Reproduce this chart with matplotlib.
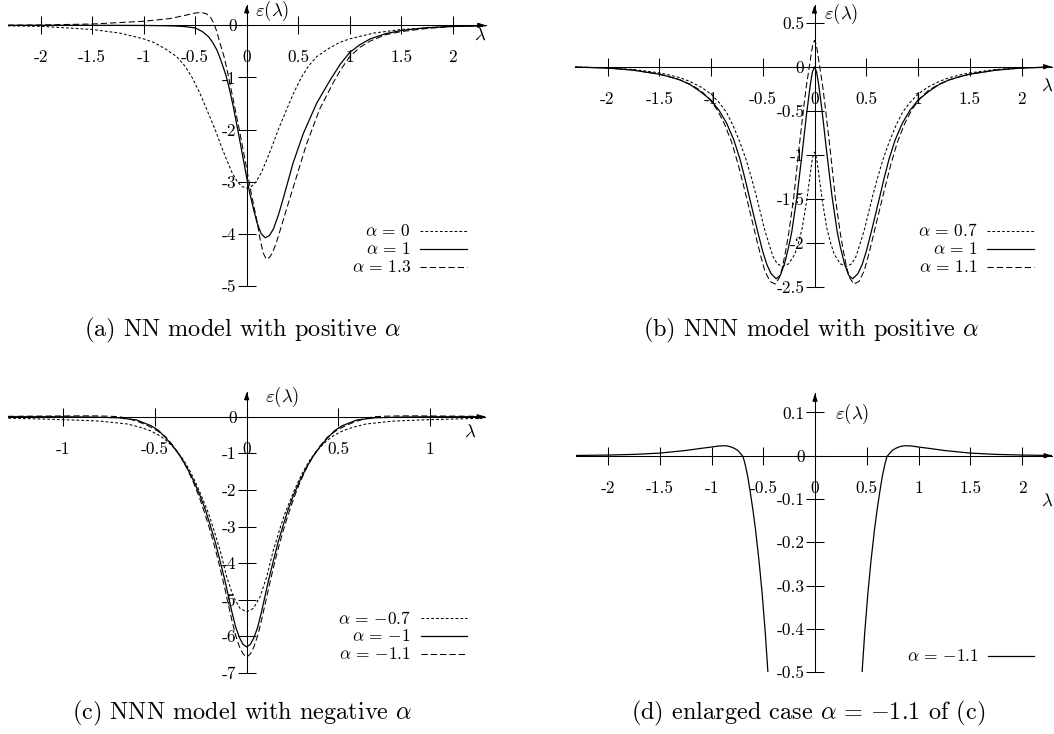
import matplotlib
matplotlib.use("Agg")
import matplotlib.pyplot as plt
from matplotlib.lines import Line2D

plt.rcParams['font.family'] = 'cmr10'
plt.rcParams['mathtext.fontset'] = 'cm'
plt.rcParams['axes.unicode_minus'] = False
plt.rcParams['lines.scale_dashes'] = False

W, H = 1054, 734

# ---------------- data ----------------
# (a) NN model, alpha = 0, 1, 1.3
a_x0 = [-2.32, -2.0, -1.5, -1.23, -1.0, -0.9, -0.8, -0.68, -0.6, -0.53, -0.45, -0.38, -0.31, -0.25,
        -0.19, -0.14, -0.09, -0.045, 0.0, 0.045, 0.09, 0.14, 0.19, 0.25, 0.31, 0.38, 0.45, 0.53,
        0.6, 0.68, 0.8, 0.9, 1.0, 1.23, 1.5, 2.0, 2.32]
a_y0 = [-0.01, -0.02, -0.08, -0.15, -0.26, -0.33, -0.44, -0.6, -0.78, -1.0, -1.32, -1.65, -1.98, -2.3,
        -2.6, -2.83, -3.0, -3.09, -3.12, -3.09, -3.0, -2.83, -2.6, -2.3, -1.98, -1.65, -1.32, -1.0,
        -0.78, -0.6, -0.44, -0.33, -0.26, -0.15, -0.08, -0.02, -0.01]

a_x1 = [-2.32, -1.5, -1.0, -0.8, -0.7, -0.6, -0.5, -0.43, -0.37, -0.33, -0.29, -0.26, -0.23, -0.2,
        -0.17, -0.13, -0.08, -0.03, 0.0, 0.03, 0.07, 0.1, 0.14, 0.18, 0.22, 0.26, 0.31, 0.36, 0.45,
        0.55, 0.68, 0.81, 0.91, 1.0, 1.1, 1.2, 1.35, 1.5, 1.75, 2.0, 2.32]
a_y1 = [0.0, 0.0, -0.003, -0.008, -0.013, -0.025, -0.05, -0.12, -0.22, -0.33, -0.47, -0.62, -0.79, -0.97,
        -1.2, -1.56, -2.07, -2.6, -2.92, -3.22, -3.55, -3.78, -3.99, -4.07, -4.03, -3.9, -3.62, -3.28, -2.64,
        -2.07, -1.49, -1.05, -0.74, -0.52, -0.37, -0.26, -0.16, -0.1, -0.045, -0.02, -0.008]

a_x13 = [-2.32, -2.0, -1.5, -1.0, -0.74, -0.6, -0.5, -0.44, -0.39, -0.35, -0.32, -0.29, -0.26, -0.22,
         -0.19, -0.13, -0.065, -0.016, 0.05, 0.1, 0.13, 0.16, 0.19, 0.22, 0.25, 0.29, 0.34, 0.39, 0.49,
         0.58, 0.71, 0.84, 0.91, 1.0, 1.1, 1.2, 1.35, 1.5, 1.75, 2.0, 2.32]
a_y13 = [0.003, 0.006, 0.025, 0.077, 0.13, 0.19, 0.235, 0.245, 0.22, 0.15, 0.04, -0.12, -0.34, -0.6,
         -0.86, -1.43, -2.07, -2.58, -3.28, -3.75, -4.1, -4.36, -4.48, -4.45, -4.36, -4.15, -3.83, -3.5, -2.86,
         -2.28, -1.6, -1.1, -0.86, -0.6, -0.42, -0.3, -0.18, -0.12, -0.06, -0.025, -0.01]

# (b) NNN model, alpha = 0.7, 1, 1.1
b_x07 = [-2.31, -2.0, -1.75, -1.5, -1.4, -1.3, -1.2, -1.1, -1.0, -0.92, -0.85, -0.79, -0.72, -0.66,
         -0.61, -0.56, -0.48, -0.43, -0.4, -0.36, -0.31, -0.25, -0.19, -0.155, -0.12, -0.1, -0.075,
         -0.04, -0.02, 0.0, 0.02, 0.04, 0.075, 0.1, 0.12, 0.155, 0.19, 0.25, 0.31, 0.36, 0.4, 0.43,
         0.48, 0.56, 0.61, 0.66, 0.72, 0.79, 0.85, 0.92, 1.0, 1.1, 1.2, 1.3, 1.4, 1.5, 1.75, 2.0, 2.29]
b_y07 = [-0.004, -0.013, -0.032, -0.07, -0.095, -0.125, -0.17, -0.23, -0.31, -0.41, -0.52, -0.66, -0.86, -1.06,
         -1.26, -1.48, -1.86, -2.05, -2.16, -2.24, -2.27, -2.24, -2.13, -2.0, -1.84, -1.7, -1.52,
         -1.21, -1.04, -0.97, -1.04, -1.21, -1.52, -1.7, -1.84, -2.0, -2.13, -2.24, -2.27, -2.24, -2.16, -2.05,
         -1.86, -1.48, -1.26, -1.06, -0.86, -0.66, -0.52, -0.41, -0.31, -0.23, -0.17, -0.125, -0.095, -0.07, -0.032,
         -0.013, -0.004]

b_x1 = [-2.31, -2.0, -1.75, -1.5, -1.4, -1.3, -1.2, -1.1, -1.0, -0.92, -0.85, -0.78, -0.72, -0.67,
        -0.63, -0.55, -0.5, -0.46, -0.42, -0.37, -0.33, -0.29, -0.25, -0.22, -0.17, -0.12, -0.075, -0.04,
        -0.02, 0.0, 0.02, 0.04, 0.075, 0.12, 0.17, 0.22, 0.25, 0.29, 0.33, 0.37, 0.42, 0.46, 0.5, 0.55,
        0.63, 0.67, 0.72, 0.78, 0.85, 0.92, 1.0, 1.1, 1.2, 1.3, 1.4, 1.5, 1.75, 2.0, 2.29]
b_y1 = [-0.005, -0.015, -0.04, -0.085, -0.115, -0.15, -0.205, -0.285, -0.38, -0.5, -0.64, -0.83, -1.05, -1.28,
        -1.48, -1.87, -2.1, -2.25, -2.35, -2.41, -2.37, -2.24, -2.05, -1.88, -1.48, -0.99, -0.52, -0.2,
        -0.06, 0.0, -0.06, -0.2, -0.52, -0.99, -1.48, -1.88, -2.05, -2.24, -2.37, -2.41, -2.35, -2.25, -2.1, -1.87,
        -1.48, -1.28, -1.05, -0.83, -0.64, -0.5, -0.38, -0.285, -0.205, -0.15, -0.115, -0.085, -0.04, -0.015, -0.005]

b_x11 = [-2.31, -2.0, -1.75, -1.5, -1.4, -1.3, -1.2, -1.1, -1.02, -0.94, -0.87, -0.8, -0.74, -0.69,
         -0.64, -0.56, -0.52, -0.48, -0.43, -0.38, -0.34, -0.31, -0.28, -0.25, -0.2, -0.156, -0.107,
         -0.08, -0.05, -0.03, -0.015, 0.0, 0.015, 0.03, 0.05, 0.08, 0.107, 0.156, 0.2, 0.25, 0.28, 0.31,
         0.34, 0.38, 0.43, 0.48, 0.52, 0.56, 0.64, 0.69, 0.74, 0.8, 0.87, 0.94, 1.02, 1.1, 1.2, 1.3, 1.4,
         1.5, 1.75, 2.0, 2.29]
b_y11 = [-0.004, -0.014, -0.038, -0.085, -0.115, -0.15, -0.2, -0.27, -0.36, -0.49, -0.65, -0.86, -1.1, -1.33,
         -1.57, -1.96, -2.15, -2.32, -2.44, -2.47, -2.4, -2.28, -2.1, -1.9, -1.48, -0.99, -0.49,
         -0.23, 0.0, 0.16, 0.26, 0.3, 0.26, 0.16, 0.0, -0.23, -0.49, -0.99, -1.48, -1.9, -2.1, -2.28,
         -2.4, -2.47, -2.44, -2.32, -2.15, -1.96, -1.57, -1.33, -1.1, -0.86, -0.65, -0.49, -0.36, -0.27, -0.2, -0.15, -0.115,
         -0.085, -0.038, -0.014, -0.004]

# (c) NNN model, alpha = -0.7, -1, -1.1  ((d) shows -1.1 enlarged)
c_xm07 = [-1.3, -1.0, -0.8, -0.65, -0.58, -0.527, -0.473, -0.436, -0.382, -0.345, -0.31, -0.29, -0.265,
          -0.24, -0.21, -0.185, -0.145, -0.11, -0.073, -0.036, 0.0, 0.036, 0.073, 0.11, 0.145, 0.185, 0.21,
          0.24, 0.265, 0.29, 0.31, 0.345, 0.382, 0.436, 0.473, 0.527, 0.58, 0.65, 0.8, 1.0, 1.3]
c_ym07 = [-0.04, -0.08, -0.12, -0.2, -0.29, -0.38, -0.52, -0.66, -0.93, -1.18, -1.48, -1.68, -1.95,
          -2.25, -2.62, -3.0, -3.65, -4.36, -4.92, -5.24, -5.33, -5.24, -4.92, -4.36, -3.65, -3.0, -2.62,
          -2.25, -1.95, -1.68, -1.48, -1.18, -0.93, -0.66, -0.52, -0.38, -0.29, -0.2, -0.12, -0.08, -0.04]

c_xm1 = [-1.3, -1.0, -0.85, -0.7, -0.6, -0.52, -0.48, -0.445, -0.4, -0.36, -0.327, -0.29, -0.255, -0.225,
         -0.2, -0.17, -0.145, -0.12, -0.1, -0.08, -0.06, -0.04, -0.02, 0.0, 0.02, 0.04, 0.06, 0.08, 0.1,
         0.12, 0.145, 0.17, 0.2, 0.225, 0.255, 0.29, 0.327, 0.36, 0.4, 0.445, 0.48, 0.52, 0.6, 0.7, 0.85,
         1.0, 1.3]
c_ym1 = [0.0, -0.003, -0.01, -0.03, -0.09, -0.25, -0.38, -0.56, -0.82, -1.1, -1.38, -1.75, -2.15, -2.55,
         -2.95, -3.45, -3.95, -4.45, -4.9, -5.35, -5.75, -6.03, -6.22, -6.29, -6.22, -6.03, -5.75, -5.35, -4.9,
         -4.45, -3.95, -3.45, -2.95, -2.55, -2.15, -1.75, -1.38, -1.1, -0.82, -0.56, -0.38, -0.25, -0.09, -0.03, -0.01,
         -0.003, 0.0]

c_xm11 = [-2.31, -2.0, -1.75, -1.5, -1.25, -1.1, -1.0, -0.93, -0.865, -0.82, -0.78, -0.745, -0.72, -0.695,
          -0.675, -0.65, -0.625, -0.6, -0.575, -0.54, -0.51, -0.48, -0.455, -0.44, -0.4, -0.36, -0.327,
          -0.29, -0.255, -0.225, -0.2, -0.17, -0.145, -0.12, -0.1, -0.08, -0.06, -0.04, -0.02, 0.0,
          0.02, 0.04, 0.06, 0.08, 0.1, 0.12, 0.145, 0.17, 0.2, 0.225, 0.255, 0.29, 0.327, 0.36, 0.4, 0.44,
          0.455, 0.48, 0.51, 0.54, 0.575, 0.6, 0.625, 0.65, 0.675, 0.695, 0.72, 0.745, 0.78, 0.82, 0.865,
          0.93, 1.0, 1.1, 1.25, 1.5, 1.75, 2.0, 2.29]
c_ym11 = [0.0005, 0.0015, 0.003, 0.006, 0.012, 0.017, 0.02, 0.0225, 0.023, 0.021, 0.017, 0.012, 0.005, -0.002,
          -0.02, -0.048, -0.085, -0.125, -0.17, -0.245, -0.32, -0.41, -0.5, -0.56, -0.8, -1.1, -1.4,
          -1.8, -2.25, -2.7, -3.1, -3.64, -4.14, -4.68, -5.13, -5.58, -5.98, -6.28, -6.48, -6.57,
          -6.48, -6.28, -5.98, -5.58, -5.13, -4.68, -4.14, -3.64, -3.1, -2.7, -2.25, -1.8, -1.4, -1.1, -0.8, -0.56,
          -0.5, -0.41, -0.32, -0.245, -0.17, -0.125, -0.085, -0.048, -0.02, -0.002, 0.005, 0.012, 0.017, 0.021, 0.023,
          0.0225, 0.02, 0.017, 0.012, 0.006, 0.003, 0.0015, 0.0005]

# ticks
ab_xticks = [-2, -1.5, -1, -0.5, 0, 0.5, 1, 1.5, 2]
c_xticks = [-1, -0.5, 0, 0.5, 1]
a_yticks = [0, -1, -2, -3, -4, -5]
b_yticks = [0.5, 0, -0.5, -1, -1.5, -2, -2.5]
c_yticks = [0, -1, -2, -3, -4, -5, -6, -7]
d_yticks = [0.1, 0, -0.1, -0.2, -0.3, -0.4, -0.5]

a_labels = [r'$\alpha\,=\,0$', r'$\alpha\,=\,1$', r'$\alpha\,=\,1.3$']
b_labels = [r'$\alpha\,=\,0.7$', r'$\alpha\,=\,1$', r'$\alpha\,=\,1.1$']
c_labels = [r'$\alpha\,=\,{-0.7}$', r'$\alpha\,=\,{-1}$', r'$\alpha\,=\,{-1.1}$']
d_labels = [r'$\alpha\,=\,{-1.1}$']

captions = [r'(a) NN model with positive $\alpha$', r'(b) NNN model with positive $\alpha$',
            r'(c) NNN model with negative $\alpha$', r'(d) enlarged case $\alpha\,=\,{-1.1}$ of (c)']

# line styles (dash lengths in points)
short = dict(color='black', lw=0.75, dashes=(2.0, 1.5))
solid = dict(color='black', lw=0.9)
longd = dict(color='black', lw=0.75, dashes=(4.5, 2.2))

PT = 0.72  # points per pixel at dpi 100

fig = plt.figure(figsize=(W / 100, H / 100), dpi=100)


def panel(ox, oy, sx, sy, xlim, ylim, xticks, yticks):
    # ox, oy: pixel position of the origin, sx, sy: pixels per unit
    left = ox + xlim[0] * sx
    right = ox + xlim[1] * sx
    top = oy - ylim[1] * sy
    bottom = oy - ylim[0] * sy
    ax = fig.add_axes([left / W, 1 - bottom / H, (right - left) / W, (bottom - top) / H])
    ax.set_xlim(xlim)
    ax.set_ylim(ylim)
    ax.patch.set_visible(False)
    ax.spines['top'].set_visible(False)
    ax.spines['right'].set_visible(False)
    for s in ['left', 'bottom']:
        ax.spines[s].set_position(('data', 0))
        ax.spines[s].set_linewidth(0.75)
    ax.set_xticks(xticks, labels=[f'{v:g}' for v in xticks])
    ax.set_yticks(yticks, labels=[f'{v:g}' for v in yticks])
    ax.tick_params(direction='inout', length=13.5, width=0.75, labelsize=12.5, colors='black')
    ax.tick_params(axis='x', pad=11)
    ax.tick_params(axis='y', pad=0.5)
    arrow = dict(arrowstyle='-|>,head_length=0.45,head_width=0.15', color='black', lw=0.75,
                 shrinkA=0, shrinkB=0)
    ax.annotate('', xy=(1, 0), xycoords=ax.get_yaxis_transform(),
                xytext=(-6, 0), textcoords='offset points', arrowprops=arrow)
    ax.annotate('', xy=(0, 1), xycoords=ax.get_xaxis_transform(),
                xytext=(0, -6), textcoords='offset points', arrowprops=arrow)
    return ax


def axis_names(ax, eps_off, lam_off):
    ax.annotate(r'$\varepsilon(\lambda)$', xy=(0, 0), xytext=(eps_off[0] * PT, eps_off[1] * PT),
                textcoords='offset points', ha='left', va='center', fontsize=13.5)
    ax.annotate(r'$\lambda$', xy=(1, 0), xycoords=ax.get_yaxis_transform(),
                xytext=(lam_off[0] * PT, lam_off[1] * PT), textcoords='offset points',
                ha='center', va='center', fontsize=13.5)


def key(labels, styles, x_text, x0, x1, rows):
    for lab, st, y in zip(labels, styles, rows):
        fig.text(x_text / W, 1 - y / H, lab, ha='right', va='center', fontsize=12.5)
        fig.add_artist(Line2D([x0 / W, x1 / W], [1 - y / H, 1 - y / H],
                              transform=fig.transFigure, **st))


# (a)
ax = panel(246.7, 25.3, 103, 52.2, (-2.32, 2.32), (-5, 0.39), ab_xticks, a_yticks)
ax.plot(a_x0, a_y0, **short)
ax.plot(a_x1, a_y1, **solid)
ax.plot(a_x13, a_y13, **longd)
axis_names(ax, (8.3, 14.3), (-6, -9.7))
key(a_labels, [short, solid, longd], 411, 420, 467, [230.7, 249, 267])

# (b)
ax = panel(814.5, 66.7, 103.5, 88, (-2.31, 2.29), (-2.5, 0.70), ab_xticks, b_yticks)
ax.plot(b_x07, b_y07, **short)
ax.plot(b_x1, b_y1, **solid)
ax.plot(b_x11, b_y11, **longd)
axis_names(ax, (9, 52.7), (-4, -19))
key(b_labels, [short, solid, longd], 978, 987, 1034, [231, 249, 267])

# (c)
ax = panel(246.7, 416.7, 183.3, 36.6, (-1.3, 1.3), (-7, 0.68), c_xticks, c_yticks)
ax.plot(c_xm07, c_ym07, **short)
ax.plot(c_xm1, c_ym1, **solid)
ax.plot(c_xm11, c_ym11, **longd)
axis_names(ax, (18, 20), (-15, -15))
key(c_labels, [short, solid, longd], 410.7, 420.7, 466.7, [618.3, 636.3, 654.3])

# (d)
ax = panel(815, 455.7, 103.5, 433, (-2.31, 2.29), (-0.5, 0.144), ab_xticks, d_yticks)
ax.plot(c_xm11, c_ym11, **solid)
axis_names(ax, (20, 41.7), (-5, -45))
key(d_labels, [solid], 979, 988, 1034, [656])

# captions
for txt, (cx, cy) in zip(captions, [(242, 336), (811, 336), (242, 719), (808, 719)]):
    fig.text(cx / W, 1 - cy / H, txt, ha='center', va='baseline', fontsize=17.5)

fig.savefig('out.png', dpi=100)
